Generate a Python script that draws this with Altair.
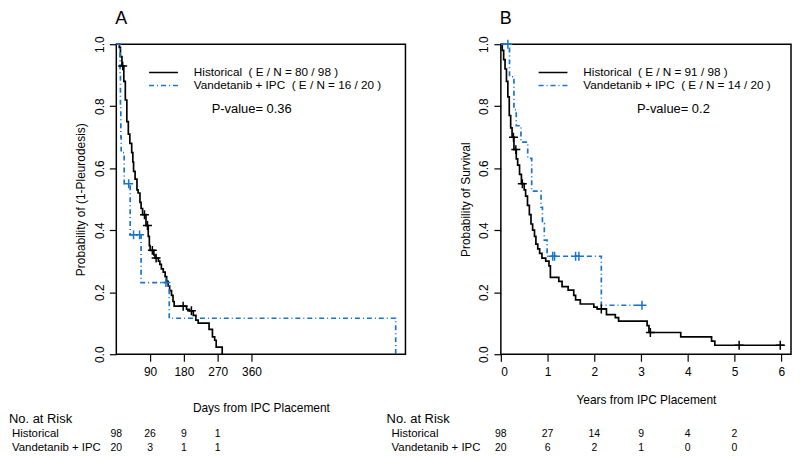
import altair as alt
import pandas as pd

FONT = "Liberation Sans"
BLACK = "#000000"
BLUE = "#1874CD"

# ---------------- Panel A : days, 1 - pleurodesis ----------------
a_hist_t = [0, 8, 11, 15, 20, 24, 28, 32, 36, 41, 44, 46, 50, 55, 58, 63, 66, 70, 79, 85,
            88, 90, 100, 103, 112, 116, 120, 125, 130, 134, 138, 142, 147, 151, 154, 187, 195,
            205, 212, 218, 247, 256, 262, 266, 282]
a_hist_s = [1.0, 0.99, 0.96, 0.93, 0.88, 0.82, 0.75, 0.71, 0.68, 0.65, 0.62, 0.59, 0.565, 0.53,
            0.52, 0.49, 0.47, 0.45, 0.415, 0.38, 0.35, 0.335, 0.32, 0.31, 0.30, 0.29, 0.275,
            0.265, 0.25, 0.235, 0.22, 0.205, 0.19, 0.17, 0.155, 0.145, 0.14, 0.125, 0.11, 0.10,
            0.08, 0.056, 0.045, 0.023, 0.0]
a_hist_cens_t = [17, 75, 83, 96, 106, 178, 200]
a_hist_cens_s = [0.93, 0.45, 0.415, 0.335, 0.31, 0.155, 0.14]
a_vand_t = [0, 10, 11, 12, 13, 21, 37, 66, 141, 744]
a_vand_s = [1.0, 0.9, 0.8, 0.7, 0.65, 0.55, 0.385, 0.231, 0.116, 0.0]
a_vand_cens_t = [33, 46, 62, 132]
a_vand_cens_s = [0.55, 0.385, 0.385, 0.231]
a_risk_t = [0, 90, 180, 270]
a_risk_hist = [98, 26, 9, 1]
a_risk_vand = [20, 3, 1, 1]
a_labels = ["Historical\u00a0\u00a0( E / N = 80 / 98 )",
            "Vandetanib + IPC\u00a0\u00a0( E / N = 16 / 20 )"]
a_xticks = [90, 180, 270, 360]
a_pval = "P-value= 0.36"

# ---------------- Panel B : years, survival ----------------
b_hist_t = [0, 0.03, 0.06, 0.09, 0.12, 0.15, 0.18, 0.21, 0.24, 0.28, 0.33, 0.36, 0.40, 0.44,
            0.50, 0.53, 0.57, 0.61, 0.645, 0.68, 0.72, 0.75, 0.79, 0.83, 0.88, 0.96, 1.03, 1.06,
            1.24, 1.31, 1.44, 1.56, 1.60, 1.70, 1.99, 2.06, 2.26, 2.45, 2.52, 3.13, 3.17, 3.85,
            4.51, 4.58, 6.07]
b_hist_s = [1.0, 0.98, 0.95, 0.92, 0.88, 0.83, 0.77, 0.73, 0.70, 0.66, 0.63, 0.61, 0.58, 0.55,
            0.53, 0.51, 0.48, 0.45, 0.42, 0.40, 0.38, 0.355, 0.34, 0.325, 0.31, 0.30, 0.285,
            0.248, 0.235, 0.218, 0.207, 0.19, 0.175, 0.162, 0.152, 0.146, 0.128, 0.118, 0.107,
            0.092, 0.07, 0.056, 0.042, 0.029, 0.029]
b_hist_cens_t = [0.27, 0.32, 0.46, 2.15, 3.2, 5.1, 5.98]
b_hist_cens_s = [0.70, 0.66, 0.55, 0.146, 0.07, 0.029, 0.029]
b_vand_t = [0, 0.185, 0.28, 0.33, 0.43, 0.575, 0.66, 0.86, 0.89, 0.93, 0.99, 2.15, 3.02]
b_vand_s = [1.0, 0.895, 0.789, 0.737, 0.684, 0.632, 0.526, 0.474, 0.421, 0.368, 0.316, 0.158, 0.158]
b_vand_cens_t = [0.15, 1.11, 1.15, 1.6, 1.67, 3.02]
b_vand_cens_s = [1.0, 0.316, 0.316, 0.316, 0.316, 0.158]
b_risk_t = [0, 1, 2, 3, 4, 5]
b_risk_hist = [98, 27, 14, 9, 4, 2]
b_risk_vand = [20, 6, 2, 1, 0, 0]
b_labels = ["Historical\u00a0\u00a0( E / N = 91 / 98 )",
            "Vandetanib + IPC\u00a0\u00a0( E / N = 14 / 20 )"]
b_xticks = [0, 1, 2, 3, 4, 5, 6]
b_pval = "P-value= 0.2"

row_labels = ["Historical", "Vandetanib + IPC"]
y_ticks = [0.0, 0.2, 0.4, 0.6, 0.8, 1.0]


def panel(letter, hist_t, hist_s, hc_t, hc_s, vand_t, vand_s, vc_t, vc_s,
          risk_t, risk_h, risk_v, labels, xdomain, xticks, xtitle, ytitle,
          pval, pval_x, legend_x, xtitle_pad, width, nar_x, lab_x):
    lines = pd.DataFrame({
        "t": hist_t + vand_t,
        "s": hist_s + vand_s,
        "group": [labels[0]] * len(hist_t) + [labels[1]] * len(vand_t),
    })
    cens = pd.DataFrame({
        "t": hc_t + vc_t,
        "s": hc_s + vc_s,
        "group": [labels[0]] * len(hc_t) + [labels[1]] * len(vc_t),
    })
    risk_hist = pd.DataFrame({"t": risk_t, "n": [str(v) for v in risk_h]})
    risk_vand = pd.DataFrame({"t": risk_t, "n": [str(v) for v in risk_v]})

    color_scale = alt.Scale(domain=labels, range=[BLACK, BLUE])
    dash_scale = alt.Scale(domain=labels, range=[[1, 0], [5, 3, 1, 3]])
    X = alt.X("t:Q", scale=alt.Scale(domain=xdomain, nice=False, zero=False),
              axis=alt.Axis(values=xticks, title=xtitle, titlePadding=xtitle_pad,
                            labelPadding=5, format="d"))
    Y = alt.Y("s:Q", scale=alt.Scale(domain=[0, 1], nice=False),
              axis=alt.Axis(values=y_ticks, format=".1f", title=ytitle, labelAngle=270,
                            labelAlign="center", labelBaseline="bottom", labelPadding=3,
                            titlePadding=6))
    leg = alt.Legend(title=None, orient="none", legendX=legend_x, legendY=22.5,
                     symbolType="M-2.9,0L2.9,0", symbolSize=100, symbolStrokeWidth=1.6,
                     labelFont=FONT, labelFontSize=11.8, labelColor=BLACK, labelOffset=24.5,
                     labelLimit=0, rowPadding=0, padding=0)

    line_layer = alt.Chart(lines).mark_line(interpolate="step-after", strokeWidth=1.7).encode(
        x=X, y=Y,
        color=alt.Color("group:N", scale=color_scale, legend=leg),
        strokeDash=alt.StrokeDash("group:N", scale=dash_scale, legend=leg),
    )
    cens_layer = alt.Chart(cens).mark_point(
        shape="M-1,0L1,0M0,-1L0,1", filled=False, size=81, strokeWidth=1.5, opacity=1
    ).encode(x=X, y=Y, color=alt.Color("group:N", scale=color_scale, legend=None))

    def txt(s, x, y, size, align="left", baseline="middle"):
        return alt.Chart(pd.DataFrame({"label": [s]})).mark_text(
            font=FONT, fontSize=size, align=align, baseline=baseline, color=BLACK
        ).encode(x=alt.value(x), y=alt.value(y), text="label:N")

    letter_layer = txt(letter, -1, -20, 18, baseline="alphabetic")
    pval_layer = txt(pval, pval_x, 65, 13)
    nar = txt("No. at Risk", nar_x, 377, 13)
    lab_h = txt(row_labels[0], lab_x, 392, 11.5)
    lab_v = txt(row_labels[1], lab_x, 406, 11.5)
    num_h = alt.Chart(risk_hist).mark_text(font=FONT, fontSize=10.5, color=BLACK).encode(
        x=X, y=alt.value(392), text="n:N")
    num_v = alt.Chart(risk_vand).mark_text(font=FONT, fontSize=10.5, color=BLACK).encode(
        x=X, y=alt.value(406), text="n:N")

    return alt.layer(line_layer, cens_layer, letter_layer, pval_layer, nar, lab_h, lab_v,
                     num_h, num_v).properties(width=width, height=312)


pa = panel("A", a_hist_t, a_hist_s, a_hist_cens_t, a_hist_cens_s, a_vand_t, a_vand_s,
           a_vand_cens_t, a_vand_cens_s, a_risk_t, a_risk_hist, a_risk_vand, a_labels,
           [0, 770], a_xticks, "Days from IPC Placement", "Probability of (1-Pleurodesis)",
           a_pval, 96, 41.5, 26, 291, -108, -105)
pb = panel("B", b_hist_t, b_hist_s, b_hist_cens_t, b_hist_cens_s, b_vand_t, b_vand_s,
           b_vand_cens_t, b_vand_cens_s, b_risk_t, b_risk_hist, b_risk_vand, b_labels,
           [0, 6.21], b_xticks, "Years from IPC Placement", "Probability of Survival",
           b_pval, 137, 46.5, 18, 292, -115, -110)

chart = alt.hconcat(pa, pb, spacing=96, bounds="flush", padding=0).resolve_scale(
    color="independent", strokeDash="independent", x="independent", y="independent"
).configure_view(stroke=BLACK, strokeWidth=1.5).configure_axis(
    domain=False, grid=False, ticks=True, tickSize=7, tickColor=BLACK, tickWidth=1.2,
    labelFont=FONT, labelFontSize=12, labelColor=BLACK,
    titleFont=FONT, titleFontSize=12, titleFontWeight="normal", titleColor=BLACK
)

chart.save("out.html", embed_options={"renderer": "svg", "actions": False})
